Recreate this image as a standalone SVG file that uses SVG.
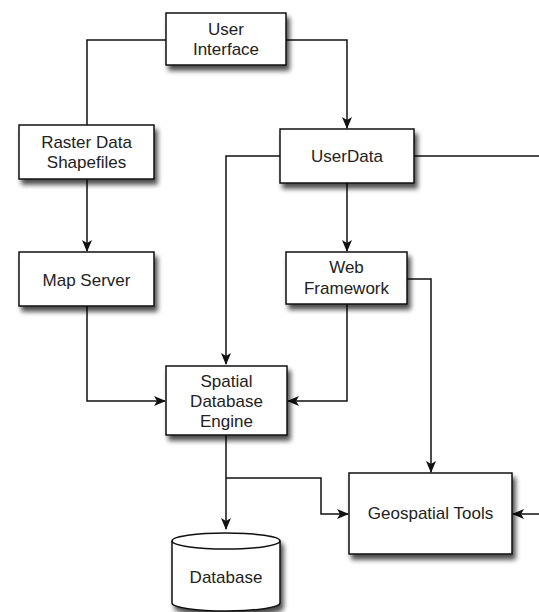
<svg xmlns="http://www.w3.org/2000/svg" width="539" height="612" viewBox="0 0 539 612">
  <defs>
    <filter id="shadow" x="-20%" y="-20%" width="150%" height="160%">
      <feGaussianBlur in="SourceAlpha" stdDeviation="2.5"/>
      <feOffset dx="3" dy="5" result="b"/>
      <feComponentTransfer><feFuncA type="linear" slope="0.7"/></feComponentTransfer>
      <feMerge><feMergeNode/><feMergeNode in="SourceGraphic"/></feMerge>
    </filter>
    <marker id="arrow" viewBox="0 0 12 10" refX="11" refY="5" markerWidth="12" markerHeight="10" markerUnits="userSpaceOnUse" orient="auto">
      <path d="M0,0 L12,5 L0,10 L3,5 Z" fill="#111"/>
    </marker>
  </defs>
  <style>
    .box { fill: #fff; stroke: #111; stroke-width: 1.5; }
    .lbl { font-family: "Liberation Sans", Arial, sans-serif; font-size: 17px; fill: #222; text-anchor: middle; }
    .edge { fill: none; stroke: #111; stroke-width: 1.5; }
  </style>
  <rect width="539" height="612" fill="#fff"/>

  <g id="connectors">
    <path class="edge" d="M166,40 H87 V125"/>
    <path class="edge" d="M286,40 H347 V128" marker-end="url(#arrow)"/>
    <path class="edge" d="M280,156 H226 V364" marker-end="url(#arrow)"/>
    <path class="edge" d="M414,156 H539"/>
    <path class="edge" d="M539,514 H513" marker-end="url(#arrow)"/>
    <path class="edge" d="M347,183 V251" marker-end="url(#arrow)"/>
    <path class="edge" d="M87,179 V251" marker-end="url(#arrow)"/>
    <path class="edge" d="M407,279 H431 V472" marker-end="url(#arrow)"/>
    <path class="edge" d="M347,304 V401 H288" marker-end="url(#arrow)"/>
    <path class="edge" d="M87,306 V401 H165" marker-end="url(#arrow)"/>
    <path class="edge" d="M226,435 V529" marker-end="url(#arrow)"/>
    <path class="edge" d="M226,478 H321 V514 H348" marker-end="url(#arrow)"/>
  </g>

  <g id="user-interface">
    <rect class="box" x="166" y="13" width="120" height="52" filter="url(#shadow)"/>
    <text class="lbl" x="226" y="35">User</text>
    <text class="lbl" x="226" y="55">Interface</text>
  </g>

  <g id="raster-data">
    <rect class="box" x="19" y="125" width="135" height="54" filter="url(#shadow)"/>
    <text class="lbl" x="86.5" y="148">Raster Data</text>
    <text class="lbl" x="86.5" y="168">Shapefiles</text>
  </g>

  <g id="user-data">
    <rect class="box" x="280" y="129" width="134" height="54" filter="url(#shadow)"/>
    <text class="lbl" x="347" y="162">UserData</text>
  </g>

  <g id="map-server">
    <rect class="box" x="19" y="252" width="135" height="54" filter="url(#shadow)"/>
    <text class="lbl" x="86.5" y="286">Map Server</text>
  </g>

  <g id="web-framework">
    <rect class="box" x="286" y="252" width="121" height="52" filter="url(#shadow)"/>
    <text class="lbl" x="346.5" y="273">Web</text>
    <text class="lbl" x="346.5" y="294">Framework</text>
  </g>

  <g id="spatial-db-engine">
    <rect class="box" x="166" y="366" width="121" height="69" filter="url(#shadow)"/>
    <text class="lbl" x="226.5" y="387">Spatial</text>
    <text class="lbl" x="226.5" y="407">Database</text>
    <text class="lbl" x="226.5" y="427">Engine</text>
  </g>

  <g id="geospatial-tools">
    <rect class="box" x="349" y="473" width="163" height="81" filter="url(#shadow)"/>
    <text class="lbl" x="430.5" y="519">Geospatial Tools</text>
  </g>

  <g id="database">
    <path class="box" d="M172,541 V603 A54,8 0 0 0 280,603 V541 A54,8 0 0 0 172,541 Z" filter="url(#shadow)"/>
    <path class="edge" d="M172,541 A54,8 0 0 0 280,541"/>
    <text class="lbl" x="226" y="583">Database</text>
  </g>
</svg>
